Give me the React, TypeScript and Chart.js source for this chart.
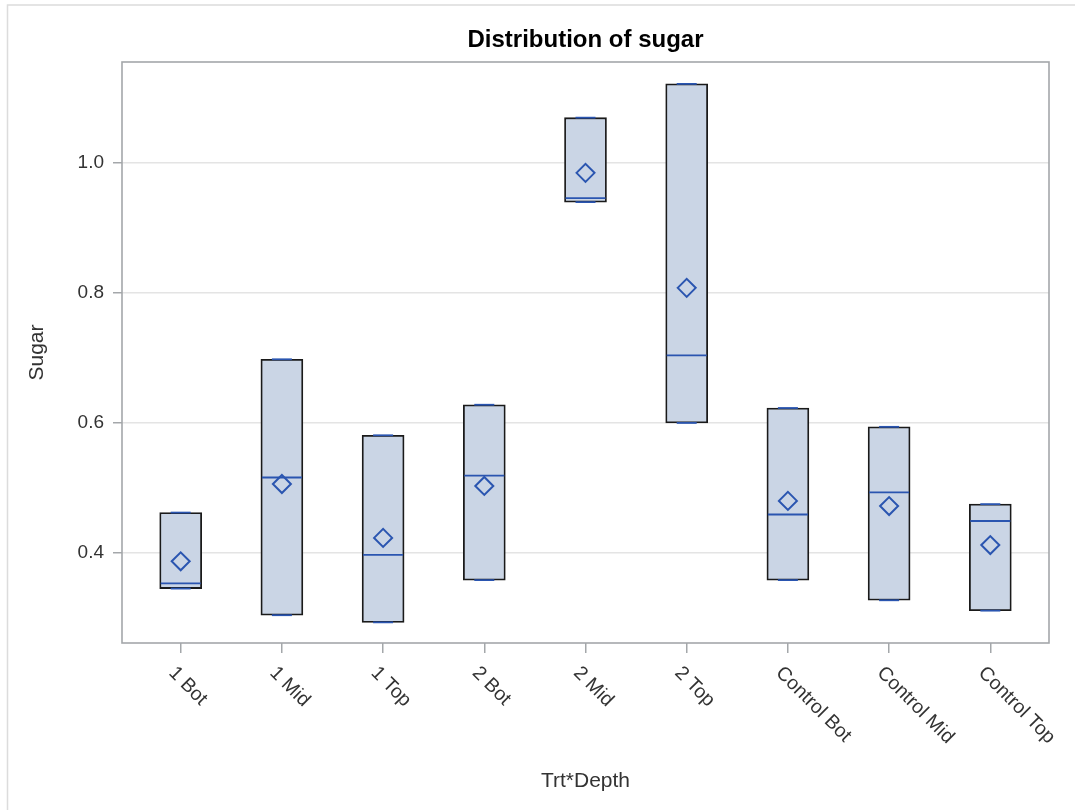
import React, { useEffect, useRef } from "react";
import { Chart, registerables } from "chart.js";

Chart.register(...registerables);

// Trt*Depth groups along the x axis
const categories = [
  "1 Bot",
  "1 Mid",
  "1 Top",
  "2 Bot",
  "2 Mid",
  "2 Top",
  "Control Bot",
  "Control Mid",
  "Control Top",
];

// Sugar summary per group (three observations each: box spans min..max)
const minValues = [0.345, 0.304, 0.293, 0.358, 0.94, 0.6, 0.358, 0.327, 0.311];
const maxValues = [0.462, 0.698, 0.581, 0.628, 1.07, 1.122, 0.623, 0.594, 0.475];
const medianValues = [0.353, 0.516, 0.397, 0.519, 0.946, 0.704, 0.459, 0.493, 0.449];
const meanValues = [0.387, 0.506, 0.423, 0.503, 0.985, 0.808, 0.48, 0.472, 0.412];

const yTickValues = [0.4, 0.6, 0.8, 1.0];

const chartTitle = "Distribution of sugar";
const xAxisTitle = "Trt*Depth";
const yAxisTitle = "Sugar";

const FONT = "'Liberation Sans', Arial, sans-serif";
const BOX_FILL = "#CAD5E5";
const BOX_EDGE = "#1A1A1A";
const DATA_BLUE = "#2A55B0";
const FRAME = "#A4A7AA";
const GRID = "#E4E4E4";
const TEXT = "#333333";

const decorations = {
  id: "sasDecorations",
  afterDraw(chart: any) {
    const { ctx, chartArea } = chart;
    const xScale = chart.scales.x;
    ctx.save();

    // outer panel border lines
    ctx.strokeStyle = "#DCDCDC";
    ctx.lineWidth = 1.5;
    ctx.beginPath();
    ctx.moveTo(7.5, 810);
    ctx.lineTo(7.5, 5);
    ctx.lineTo(1075, 5);
    ctx.stroke();

    // plot frame
    ctx.strokeStyle = FRAME;
    ctx.lineWidth = 1.6;
    ctx.strokeRect(
      chartArea.left,
      chartArea.top,
      chartArea.right - chartArea.left,
      chartArea.bottom - chartArea.top
    );

    // title
    ctx.fillStyle = "#000";
    ctx.font = `bold 24px ${FONT}`;
    ctx.textAlign = "center";
    ctx.textBaseline = "alphabetic";
    ctx.fillText(chartTitle, (chartArea.left + chartArea.right) / 2, 47);

    // x axis title
    ctx.fillStyle = TEXT;
    ctx.font = `21px ${FONT}`;
    ctx.fillText(xAxisTitle, (chartArea.left + chartArea.right) / 2, 787);

    // y axis title
    ctx.save();
    ctx.translate(37, (chartArea.top + chartArea.bottom) / 2);
    ctx.rotate(-Math.PI / 2);
    ctx.textBaseline = "middle";
    ctx.fillText(yAxisTitle, 0, 0);
    ctx.restore();

    // slanted category labels
    ctx.font = `19.5px ${FONT}`;
    ctx.textAlign = "left";
    ctx.textBaseline = "middle";
    categories.forEach((label, i) => {
      const px = xScale.getPixelForValue(i);
      ctx.save();
      ctx.translate(px - 9, chartArea.bottom + 27);
      ctx.rotate(Math.PI / 4);
      ctx.fillText(label, 0, 0);
      ctx.restore();
    });

    ctx.restore();
  },
};

export default function App() {
  const canvasRef = useRef<HTMLCanvasElement | null>(null);

  useEffect(() => {
    if (!canvasRef.current) return;
    const idx = categories.map((_, i) => i);

    const chart = new Chart(canvasRef.current, {
      type: "bar",
      data: {
        datasets: [
          {
            type: "bar",
            label: "Box",
            data: idx.map((i) => ({ x: i, y: [minValues[i], maxValues[i]] })) as any,
            backgroundColor: BOX_FILL,
            borderColor: BOX_EDGE,
            borderWidth: 1.8,
            borderSkipped: false,
            barThickness: 42,
            order: 4,
          },
          {
            type: "scatter",
            label: "Median",
            data: idx.map((i) => ({ x: i, y: medianValues[i] })),
            pointStyle: "line",
            pointRadius: 20,
            pointBorderColor: DATA_BLUE,
            pointBorderWidth: 1.8,
            order: 3,
          },
          {
            type: "scatter",
            label: "Min",
            data: idx.map((i) => ({ x: i, y: minValues[i] })),
            pointStyle: "line",
            pointRadius: 10,
            pointBorderColor: DATA_BLUE,
            pointBorderWidth: 1.8,
            order: 2,
          },
          {
            type: "scatter",
            label: "Max",
            data: idx.map((i) => ({ x: i, y: maxValues[i] })),
            pointStyle: "line",
            pointRadius: 10,
            pointBorderColor: DATA_BLUE,
            pointBorderWidth: 1.8,
            order: 2,
          },
          {
            type: "scatter",
            label: "Mean",
            data: idx.map((i) => ({ x: i, y: meanValues[i] })),
            pointStyle: "rectRot",
            pointRadius: 9,
            pointBackgroundColor: "rgba(0,0,0,0)",
            pointBorderColor: DATA_BLUE,
            pointBorderWidth: 2,
            order: 1,
          },
        ],
      },
      options: {
        responsive: false,
        animation: false,
        events: [],
        layout: { padding: { top: 62, right: 26, left: 0, bottom: 0 } },
        plugins: {
          legend: { display: false },
          title: { display: false },
          tooltip: { enabled: false },
        },
        scales: {
          x: {
            type: "linear",
            offset: false,
            min: -0.58,
            max: 8.58,
            afterBuildTicks: (scale: any) => {
              scale.ticks = idx.map((v) => ({ value: v }));
            },
            afterFit: (scale: any) => {
              scale.height = 167;
            },
            ticks: { display: false },
            border: { display: false },
            grid: {
              offset: false,
              drawOnChartArea: false,
              drawTicks: true,
              tickLength: 10,
              tickColor: FRAME,
              lineWidth: 1.5,
            },
          },
          y: {
            type: "linear",
            min: 0.2612,
            max: 1.1557,
            afterBuildTicks: (scale: any) => {
              scale.ticks = yTickValues.map((v) => ({ value: v }));
            },
            afterFit: (scale: any) => {
              scale.width = 122;
            },
            ticks: {
              padding: 9,
              color: TEXT,
              font: { family: FONT, size: 19 },
              callback: (v: any) => Number(v).toFixed(1),
            },
            border: { display: false },
            grid: {
              color: GRID,
              lineWidth: 1.5,
              drawTicks: true,
              tickLength: 9,
              tickColor: FRAME,
            },
          },
        },
      },
      plugins: [decorations],
    });

    return () => chart.destroy();
  }, []);

  return (
    <div
      style={{
        position: "fixed",
        left: 0,
        top: 0,
        width: 1075,
        height: 810,
        background: "#fff",
      }}
    >
      <canvas ref={canvasRef} width={1075} height={810} />
    </div>
  );
}
